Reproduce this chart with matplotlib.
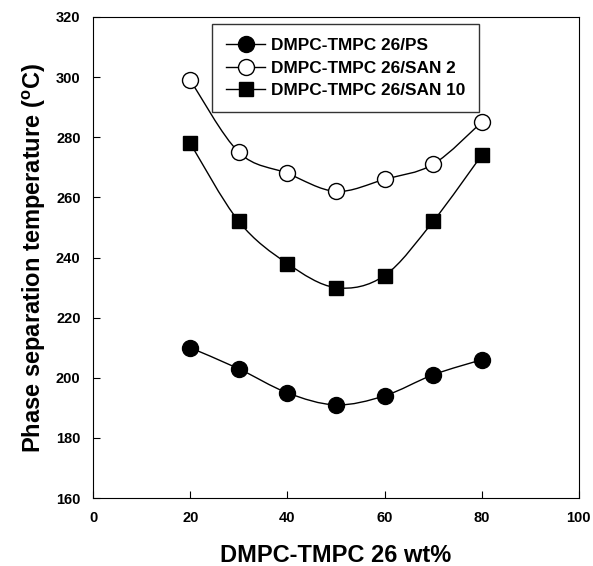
import numpy as np
import matplotlib
matplotlib.use("Agg")
import matplotlib.pyplot as plt
from matplotlib.path import Path
from matplotlib.patches import PathPatch
from matplotlib.lines import Line2D

plt.rcParams['font.family'] = ['Liberation Sans', 'DejaVu Sans']
plt.rcParams['font.weight'] = 'bold'

# data
wt = [20, 30, 40, 50, 60, 70, 80]
ps = [210, 203, 195, 191, 194, 201, 206]
san2 = [299, 275, 268, 262, 266, 271, 285]
san10 = [278, 252, 238, 230, 234, 252, 274]

labels = ["DMPC-TMPC 26/PS", "DMPC-TMPC 26/SAN 2", "DMPC-TMPC 26/SAN 10"]


def smooth_path(x, y):
    # catmull-rom through the points, as cubic bezier segments
    x = np.asarray(x, float)
    y = np.asarray(y, float)
    pts = np.column_stack([x, y])
    verts = [pts[0]]
    codes = [Path.MOVETO]
    n = len(pts)
    for i in range(n - 1):
        p0 = pts[i - 1] if i > 0 else pts[i]
        p1 = pts[i]
        p2 = pts[i + 1]
        p3 = pts[i + 2] if i + 2 < n else pts[i + 1]
        c1 = p1 + (p2 - p0) / 6
        c2 = p2 - (p3 - p1) / 6
        verts += [c1, c2, p2]
        codes += [Path.CURVE4] * 3
    return Path(verts, codes)


fig = plt.figure(figsize=(5.93, 5.66), dpi=100)
ax = fig.add_axes([0.157, 0.12, 0.819, 0.85])

for yv in [ps, san2, san10]:
    ax.add_patch(PathPatch(smooth_path(wt, yv), fill=False, lw=1.0, color='black', zorder=2))

ax.plot(wt, ps, 'o', ms=11.5, mfc='black', mec='black', zorder=3)
ax.plot(wt, san2, 'o', ms=11.5, mfc='white', mec='black', mew=1.0, zorder=3)
ax.plot(wt, san10, 's', ms=9.5, mfc='black', mec='black', zorder=3)

ax.set_xlim(0, 100)
ax.set_ylim(160, 320)
ax.set_xticks(np.arange(0, 101, 20))
ax.set_yticks(np.arange(160, 321, 20))
ax.tick_params(direction='in', length=5, labelsize=10.5, pad=9, top=False, right=False)
for lab in ax.get_xticklabels() + ax.get_yticklabels():
    lab.set_fontweight('bold')

ax.set_xlabel("DMPC-TMPC 26 wt%", fontsize=17, fontweight='bold', labelpad=14)
ax.set_ylabel("Phase separation temperature ($^\\mathregular{o}$C)", fontsize=17,
              fontweight='bold', labelpad=6)

handles = [
    Line2D([], [], color='black', lw=1.0, marker='o', ms=11.5, mfc='black', mec='black'),
    Line2D([], [], color='black', lw=1.0, marker='o', ms=11.5, mfc='white', mec='black'),
    Line2D([], [], color='black', lw=1.0, marker='s', ms=9.5, mfc='black', mec='black'),
]
leg = fig.legend(handles, labels, loc='upper left', bbox_to_anchor=(212 / 593, 1 - 24 / 566),
                 bbox_transform=fig.transFigure, borderaxespad=0,
                 frameon=True, fancybox=False, edgecolor='black',
                 handlelength=2.3, labelspacing=0.45, borderpad=0.8, handletextpad=0.3,
                 prop={'weight': 'bold', 'size': 12.4})
leg.get_frame().set_linewidth(1.0)

fig.savefig("out.png", dpi=100)
